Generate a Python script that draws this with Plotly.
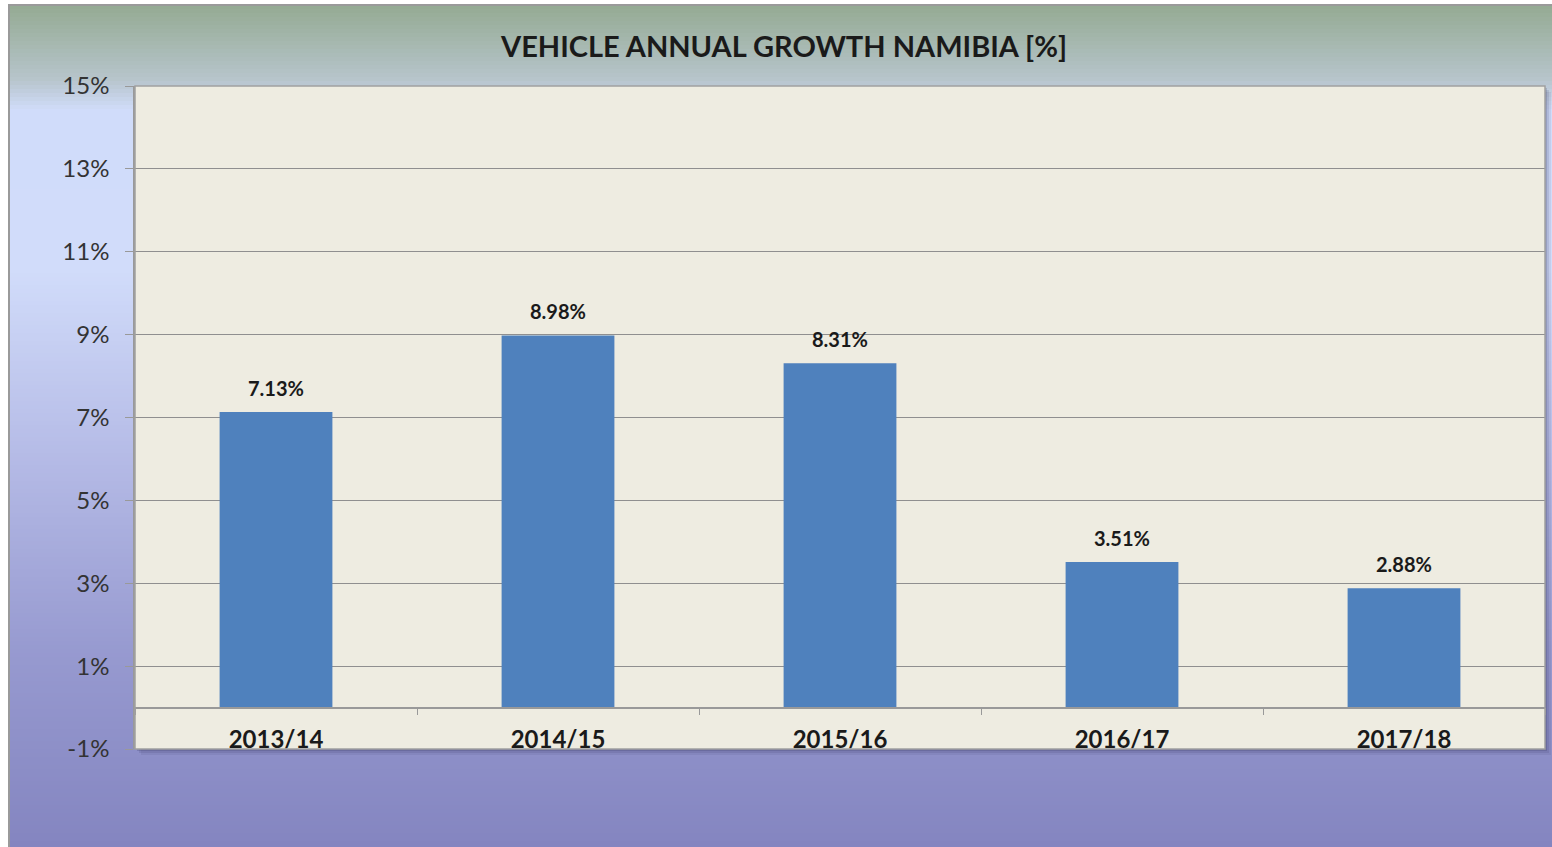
import plotly.graph_objects as go

# ---- data ----
categories = ["2013/14", "2014/15", "2015/16", "2016/17", "2017/18"]
growth_pct = [7.13, 8.98, 8.31, 3.51, 2.88]
value_labels = ["7.13%", "8.98%", "8.31%", "3.51%", "2.88%"]
y_tick_vals = [-1, 1, 3, 5, 7, 9, 11, 13, 15]
y_tick_text = ["-1%", "1%", "3%", "5%", "7%", "9%", "11%", "13%", "15%"]
title_text = "VEHICLE ANNUAL GROWTH NAMIBIA [%]"

# ---- geometry (pixels) ----
W, H = 1552, 847
L, R, T, B = 135, 7, 86, 98
PW, PH = W - L - R, H - T - B

def px_x(x):
    return (x - L) / PW

def px_y(y):
    return (H - B - y) / PH

FONT = "Lato"

fig = go.Figure()
fig.add_trace(go.Bar(
    x=categories, y=growth_pct, width=0.4,
    marker=dict(color="#4F81BD", line=dict(width=0)),
    hoverinfo="skip", showlegend=False,
))

shapes = []
# background gradient of chart area
stops = [(5, (148, 170, 146)), (80, (183, 197, 204)), (110, (208, 220, 250)),
         (270, (209, 220, 250)), (450, (182, 188, 231)), (650, (151, 154, 208)),
         (847, (132, 133, 192))]

def color_at(y):
    for (y0, c0), (y1, c1) in zip(stops[:-1], stops[1:]):
        if y0 <= y <= y1:
            t = (y - y0) / (y1 - y0)
            return "rgb(%d,%d,%d)" % tuple(round(a + (b - a) * t) for a, b in zip(c0, c1))
    return "rgb(%d,%d,%d)" % stops[-1][1]

step = 4
ypos = 5
while ypos < H:
    y2 = min(ypos + step, H)
    shapes.append(dict(type="rect", xref="paper", yref="paper", layer="below",
                       x0=px_x(9), x1=px_x(W + 2), y0=px_y(y2 + 0.5), y1=px_y(ypos),
                       fillcolor=color_at(ypos + step / 2), line=dict(width=0)))
    ypos = y2
# chart box border (left/top)
shapes.append(dict(type="rect", xref="paper", yref="paper", layer="below",
                   x0=px_x(9), x1=px_x(W + 5), y0=px_y(H + 5), y1=px_y(5),
                   fillcolor="rgba(0,0,0,0)", line=dict(color="#9a9a9a", width=2)))
# plot shadow
for off, a in [(6, 0.08), (4, 0.12), (2, 0.18)]:
    shapes.append(dict(type="rect", xref="paper", yref="paper", layer="below",
                       x0=px_x(L + off), x1=px_x(L + PW + off), y0=px_y(H - B + off), y1=px_y(T + off),
                       fillcolor="rgba(40,40,80,%.2f)" % a, line=dict(width=0)))
# plot area fill
shapes.append(dict(type="rect", xref="paper", yref="paper", layer="below",
                   x0=0, x1=1, y0=0, y1=1, fillcolor="#EEECE1", line=dict(width=0)))
# plot border
shapes.append(dict(type="rect", xref="paper", yref="paper", layer="above",
                   x0=0, x1=1, y0=0, y1=1, fillcolor="rgba(0,0,0,0)",
                   line=dict(color="#a0a0a0", width=1.5)))

annotations = []
for c, v, t in zip(categories, growth_pct, value_labels):
    annotations.append(dict(x=c, y=v, xref="x", yref="y", text="<b>%s</b>" % t,
                            showarrow=False, yanchor="middle", yshift=24,
                            font=dict(family=FONT, size=20, color="#1a1a1a")))

annotations.append(dict(x=px_x(783), y=px_y(46), xref="paper", yref="paper",
                        text="<b>%s</b>" % title_text, showarrow=False,
                        xanchor="center", yanchor="middle",
                        font=dict(family=FONT, size=29, color="#1a1a1a")))

fig.update_layout(
    width=W, height=H,
    margin=dict(l=L, r=R, t=T, b=B, pad=0),
    paper_bgcolor="white",
    plot_bgcolor="rgba(0,0,0,0)",
    shapes=shapes,
    annotations=annotations,
    bargap=0.6,
    xaxis=dict(
        type="category", anchor="free", position=1 / 16,
        showline=True, linecolor="#999999", linewidth=1.5,
        ticks="outside", tickson="boundaries", ticklen=7, tickcolor="#999999",
        showgrid=False, ticklabelstandoff=11,
        tickfont=dict(family=FONT, size=24, color="#1a1a1a", weight="bold"),
        range=[-0.5, 4.5],
    ),
    yaxis=dict(
        range=[-1, 15], tickvals=y_tick_vals, ticktext=y_tick_text,
        showgrid=True, gridcolor="#8f8f8f", gridwidth=1, zeroline=False,
        showline=True, linecolor="#999999", linewidth=1.5,
        ticks="outside", ticklen=8, tickcolor="#999999",
        tickfont=dict(family=FONT, size=24, color="#333333"),
        ticklabelstandoff=11,
    ),
)

fig.write_html("out.html", config={"displayModeBar": False},
               post_script="document.body.style.margin='0';")
